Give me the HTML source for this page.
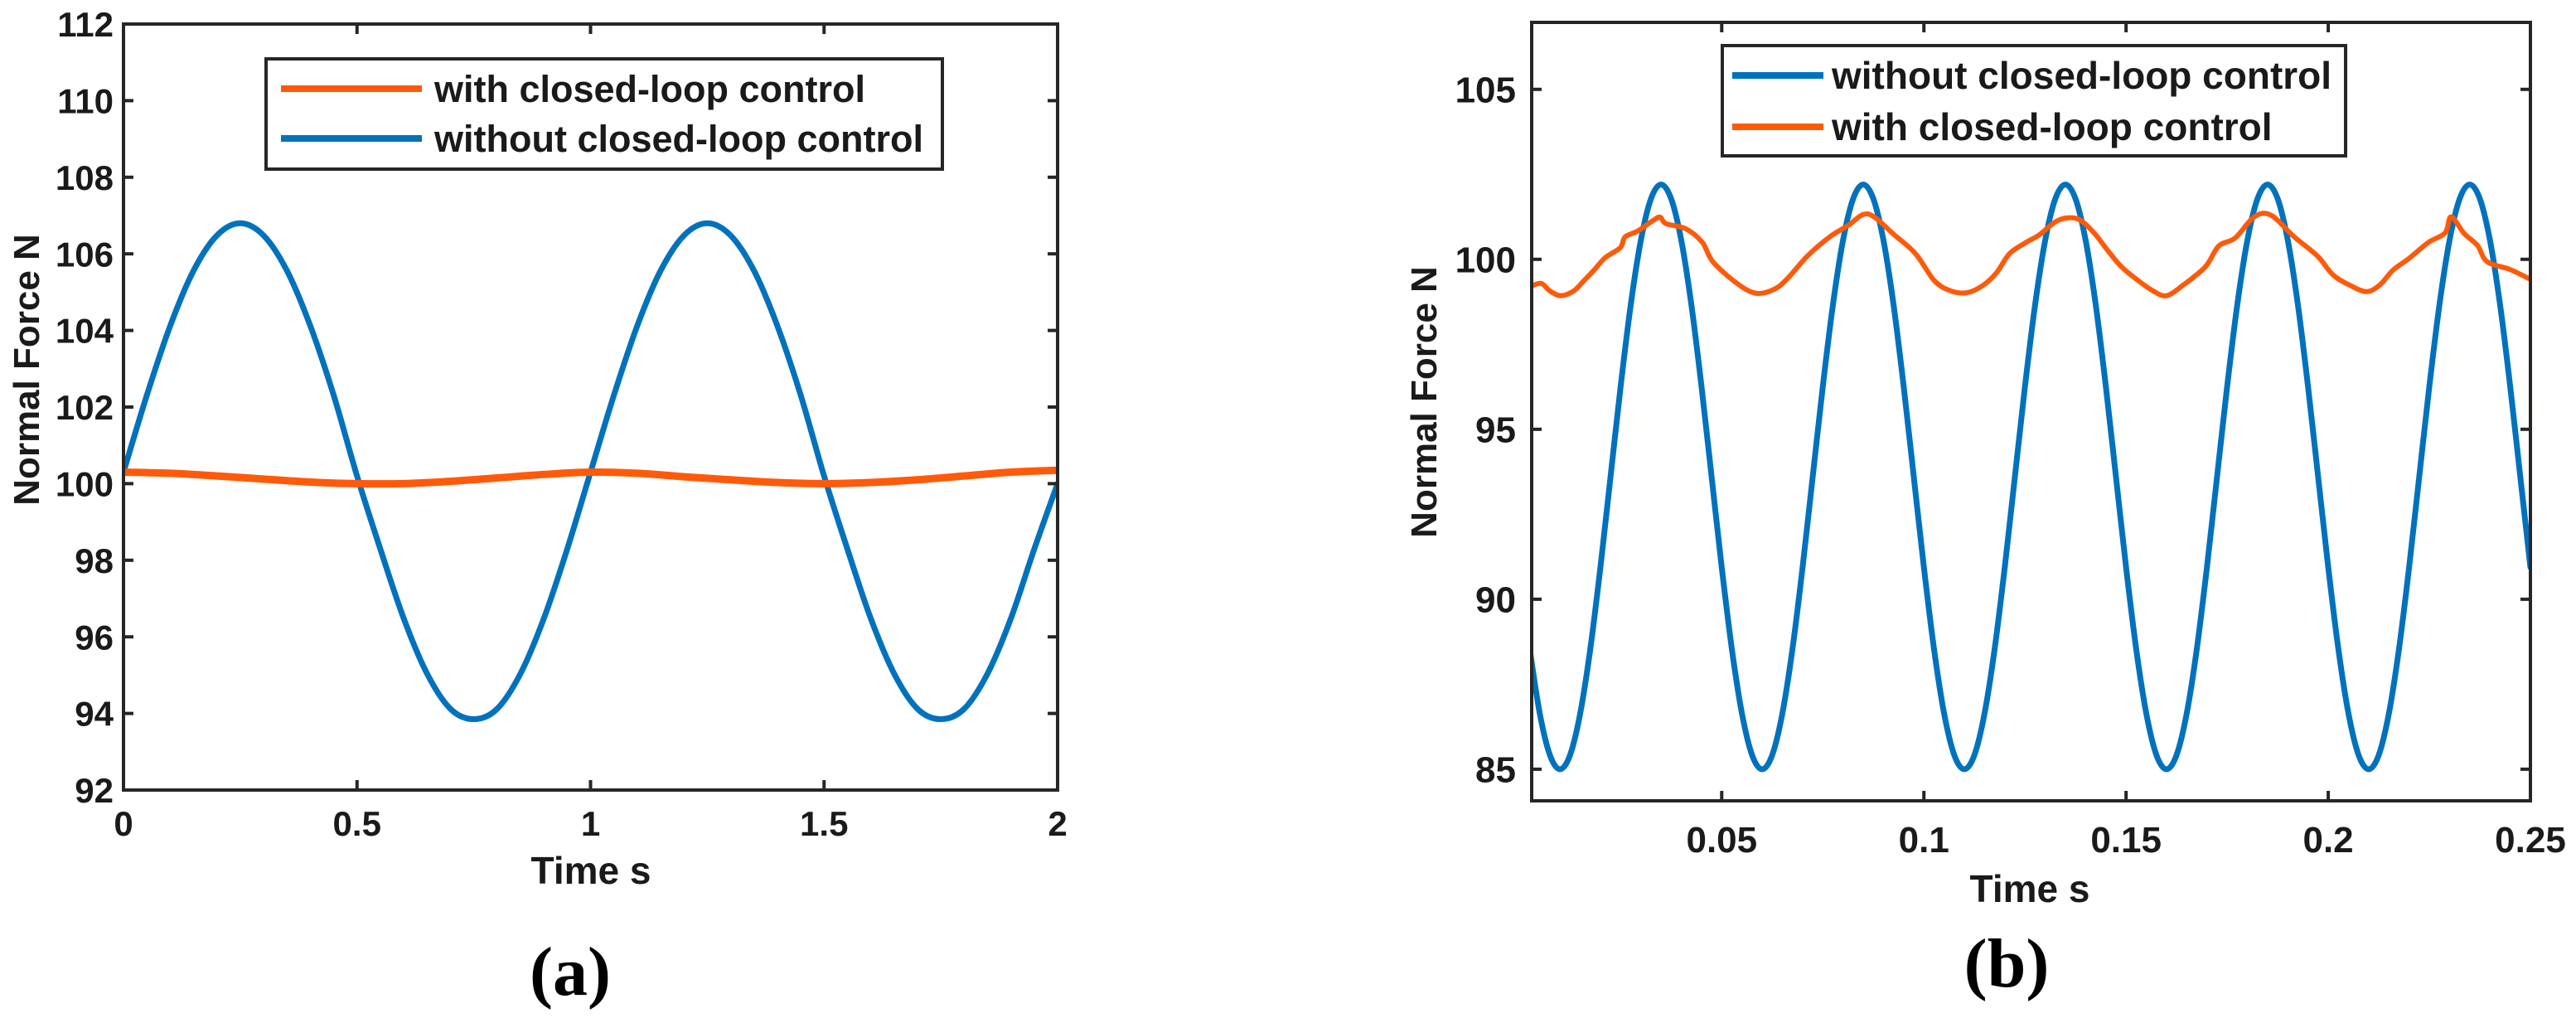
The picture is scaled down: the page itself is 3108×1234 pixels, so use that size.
<!DOCTYPE html>
<html><head><meta charset="utf-8">
<style>
html,body{margin:0;padding:0;background:#fff;}
svg{display:block;}
text{font-family:"Liberation Sans",Arial,sans-serif;font-weight:bold;fill:#1a1a1a;}
.serif{font-family:"Liberation Serif","Times New Roman",serif;font-weight:bold;fill:#000;}
</style></head>
<body>
<svg id="fig" width="3108" height="1234" viewBox="0 0 3108 1234" xmlns="http://www.w3.org/2000/svg">
<rect width="3108" height="1234" fill="#fff"/>
</svg>
<script>
// ---------- Panel (a) data ----------
const aTime = [0,0.05,0.1,0.15,0.2,0.25,0.3,0.35,0.4,0.45,0.5,0.55,0.6,0.65,0.7,0.75,0.8,0.85,0.9,0.95,1.0,1.05,1.1,1.15,1.2,1.25,1.3,1.35,1.4,1.45,1.5,1.55,1.6,1.65,1.7,1.75,1.8,1.85,1.9,1.95,2.0];
const aWithout = [100.3,102.31,104.12,105.56,106.48,106.8,106.48,105.56,104.12,102.31,100.2,98.29,96.48,95.04,94.12,93.85,94.12,95.04,96.48,98.29,100.3,102.31,104.12,105.56,106.48,106.8,106.48,105.56,104.12,102.31,100.2,98.29,96.48,95.04,94.12,93.85,94.12,95.04,96.48,98.29,100.0];
const aTimeW = [0,0.1,0.2,0.3,0.4,0.5,0.6,0.7,0.8,0.9,1.0,1.1,1.2,1.3,1.4,1.5,1.6,1.7,1.8,1.9,2.0];
const aWith = [100.3,100.27,100.2,100.12,100.04,100.0,100.0,100.06,100.15,100.24,100.3,100.27,100.18,100.1,100.03,100.0,100.03,100.1,100.2,100.3,100.35];
const aXTicks = [0,0.5,1,1.5,2];
const aXTickLabels = ["0","0.5","1","1.5","2"];
const aYTicks = [92,94,96,98,100,102,104,106,108,110,112];
const aYTickLabels = ["92","94","96","98","100","102","104","106","108","110","112"];

// ---------- Panel (b) data ----------
const bWithout = [88.54,86.64,85.42,85.0,85.42,86.64,88.54,90.94,93.6,96.26,98.66,100.56,101.78,
102.2,101.78,100.56,98.66,96.26,93.6,90.94,88.54,86.64,85.42,85.0,85.42,86.64,88.54,90.94,93.6,96.26,98.66,100.56,101.78,
102.2,101.78,100.56,98.66,96.26,93.6,90.94,88.54,86.64,85.42,85.0,85.42,86.64,88.54,90.94,93.6,96.26,98.66,100.56,101.78,
102.2,101.78,100.56,98.66,96.26,93.6,90.94,88.54,86.64,85.42,85.0,85.42,86.64,88.54,90.94,93.6,96.26,98.66,100.56,101.78,
102.2,101.78,100.56,98.66,96.26,93.6,90.94,88.54,86.64,85.42,85.0,85.42,86.64,88.54,90.94,93.6,96.26,98.66,100.56,101.78,
102.2,101.78,100.56,98.66,96.26,93.6,90.94];
const bTimeW = [0.003,0.0054,0.0075,0.0102,0.0134,0.0159,0.0184,0.0212,0.0249,0.0261,0.0292,0.0331,0.0348,0.0362,0.0411,0.0452,0.0478,0.0538,0.0585,0.0630,0.0663,0.0712,0.0767,0.0813,0.0850,0.0878,0.0923,0.0979,0.1026,0.1067,0.1108,0.1147,0.1180,0.1212,0.1253,0.1284,0.1325,0.1356,0.1387,0.1422,0.1454,0.1487,0.1526,0.1567,0.1600,0.1641,0.1696,0.1729,0.1770,0.1817,0.1858,0.1916,0.1973,0.2012,0.2053,0.2094,0.2127,0.2160,0.2199,0.2248,0.2289,0.2304,0.2336,0.2369,0.2393,0.2450,0.25];
const bWith = [99.22,99.29,99.07,98.93,99.07,99.37,99.68,100.05,100.34,100.66,100.83,101.15,101.24,101.05,100.9,100.5,99.93,99.29,99.0,99.12,99.44,100.1,100.66,101.0,101.32,101.24,100.76,100.17,99.37,99.07,99.02,99.24,99.61,100.17,100.5,100.71,101.1,101.22,101.15,100.76,100.27,99.8,99.41,99.07,98.93,99.24,99.78,100.39,100.63,101.25,101.3,100.66,100.1,99.54,99.24,99.05,99.24,99.68,100.02,100.5,100.78,101.25,100.76,100.41,99.93,99.7,99.41];
const bXTicks = [0.05,0.1,0.15,0.2,0.25];
const bXTickLabels = ["0.05","0.1","0.15","0.2","0.25"];
const bYTicks = [85,90,95,100,105];
const bYTickLabels = ["85","90","95","100","105"];

const NS = "http://www.w3.org/2000/svg";
const svg = document.getElementById('fig');
const AX = "#262626", BLUE = "#0072BD", ORANGE = "#FF5A0A";

function mk(tag, attrs, parent){
  const e = document.createElementNS(NS, tag);
  for (const k in attrs) e.setAttribute(k, attrs[k]);
  (parent || svg).appendChild(e);
  return e;
}
function smoothPath(pts){
  let d = "M" + pts[0][0].toFixed(2) + "," + pts[0][1].toFixed(2);
  for (let i = 0; i < pts.length - 1; i++){
    const p0 = pts[i-1] || pts[i], p1 = pts[i], p2 = pts[i+1], p3 = pts[i+2] || p2;
    const c1x = p1[0] + (p2[0]-p0[0])/6, c1y = p1[1] + (p2[1]-p0[1])/6;
    const c2x = p2[0] - (p3[0]-p1[0])/6, c2y = p2[1] - (p3[1]-p1[1])/6;
    d += " C" + c1x.toFixed(2)+","+c1y.toFixed(2)+" "+c2x.toFixed(2)+","+c2y.toFixed(2)+" "+p2[0].toFixed(2)+","+p2[1].toFixed(2);
  }
  return d;
}

function panel(cfg){
  const g = mk('g', {});
  
  
  const sx = v => cfg.x0 + (v - cfg.xmin) / (cfg.xmax - cfg.xmin) * (cfg.x1 - cfg.x0);
  const sy = v => cfg.y1 - (v - cfg.ymin) / (cfg.ymax - cfg.ymin) * (cfg.y1 - cfg.y0);
  const clip = mk('clipPath', {id: cfg.name + '-clip'}, g);
  mk('rect', {x: cfg.x0, y: cfg.y0, width: cfg.x1 - cfg.x0, height: cfg.y1 - cfg.y0}, clip);
  const plot = mk('g', {'clip-path': 'url(#' + cfg.name + '-clip)'}, g);
  
  
  cfg.series.forEach(s => {
    const pts = s.t.map((t, i) => [sx(t), sy(s.v[i])]);
    const p = mk('path', {d: smoothPath(pts), fill: 'none', stroke: s.color, 'stroke-width': s.w, 'stroke-linejoin': 'round', 'stroke-linecap': 'round'}, plot);
    
    
  });
  const box = mk('rect', {x: cfg.x0, y: cfg.y0, width: cfg.x1 - cfg.x0, height: cfg.y1 - cfg.y0, fill: 'none', stroke: AX, 'stroke-width': 4}, g);
  
  
  cfg.xt.forEach((v, i) => {
    const x = sx(v);
    mk('line', {x1: x, x2: x, y1: cfg.y1, y2: cfg.y1 - 12, stroke: AX, 'stroke-width': 4}, g);
    mk('line', {x1: x, x2: x, y1: cfg.y0, y2: cfg.y0 + 12, stroke: AX, 'stroke-width': 4}, g);
    const t = mk('text', {x: x, y: cfg.xLabY, 'font-size': cfg.tickFs, 'text-anchor': 'middle'}, g);
    t.textContent = cfg.xtl[i];
    
    
  });
  cfg.yt.forEach((v, i) => {
    const y = sy(v);
    mk('line', {x1: cfg.x0, x2: cfg.x0 + 12, y1: y, y2: y, stroke: AX, 'stroke-width': 4}, g);
    mk('line', {x1: cfg.x1, x2: cfg.x1 - 12, y1: y, y2: y, stroke: AX, 'stroke-width': 4}, g);
    const t = mk('text', {x: cfg.yLabX, y: y + cfg.tickFs * 0.36, 'font-size': cfg.tickFs, 'text-anchor': 'end'}, g);
    t.textContent = cfg.ytl[i];
    
    
  });
  const xt = mk('text', {x: cfg.xTitle[0], y: cfg.xTitle[1], 'font-size': 46, 'text-anchor': 'middle'}, g);
  xt.textContent = 'Time s';
  
  
  const yt = mk('text', {x: 0, y: 0, 'font-size': 44, 'text-anchor': 'middle', transform: 'translate(' + cfg.yTitle[0] + ',' + cfg.yTitle[1] + ') rotate(-90)'}, g);
  yt.textContent = 'Normal Force N';
  
  
  const L = cfg.legend;
  const lg = mk('g', {}, g);
  
  
  mk('rect', {x: L.x, y: L.y, width: L.w, height: L.h, fill: '#fff', stroke: AX, 'stroke-width': 4}, lg);
  L.items.forEach(it => {
    const e = mk('g', {}, lg);
    
    
    mk('line', {x1: L.lx0, x2: L.lx1, y1: it.y, y2: it.y, stroke: it.color, 'stroke-width': 8}, e);
    const t = mk('text', {x: L.tx, y: it.y + L.fs * 0.35, 'font-size': L.fs}, e);
    t.textContent = it.label;
  });
  const cap = mk('text', {x: cfg.cap[0], y: cfg.cap[1], 'font-size': 84, 'text-anchor': 'middle', class: 'serif'}, g);
  cap.textContent = cfg.capText;
  
  
}

panel({
  name: 'panel-a', x0: 149, x1: 1276, y0: 29, y1: 953,
  xmin: 0, xmax: 2, ymin: 92, ymax: 112,
  xt: aXTicks, xtl: aXTickLabels, yt: aYTicks, ytl: aYTickLabels,
  tickFs: 42, xLabY: 1008, yLabX: 137,
  xTitle: [713, 1066], yTitle: [47, 446],
  series: [
    {name: 'series-without-control', t: aTime, v: aWithout, color: BLUE, w: 7},
    {name: 'series-with-control', t: aTimeW, v: aWith, color: ORANGE, w: 9}
  ],
  legend: {x: 321, y: 71, w: 816, h: 133, lx0: 339, lx1: 509, tx: 524, fs: 45,
    items: [{y: 107, color: ORANGE, label: 'with closed-loop control'},
            {y: 167, color: BLUE, label: 'without closed-loop control'}]},
  cap: [688, 1200], capText: '(a)'
});

const bTime = bWithout.map((_, i) => 0.0025 * (i + 1));
panel({
  name: 'panel-b', x0: 1848, x1: 3053, y0: 27, y1: 966,
  xmin: 0.003, xmax: 0.25, ymin: 84.07, ymax: 106.97,
  xt: bXTicks, xtl: bXTickLabels, yt: bYTicks, ytl: bYTickLabels,
  tickFs: 44, xLabY: 1028, yLabX: 1829,
  xTitle: [2449, 1088], yTitle: [1733, 485],
  series: [
    {name: 'series-without-control', t: bTime, v: bWithout, color: BLUE, w: 7},
    {name: 'series-with-control', t: bTimeW, v: bWith, color: ORANGE, w: 6}
  ],
  legend: {x: 2078, y: 55, w: 752, h: 133, lx0: 2090, lx1: 2200, tx: 2210, fs: 46,
    items: [{y: 91, color: BLUE, label: 'without closed-loop control'},
            {y: 153, color: ORANGE, label: 'with closed-loop control'}]},
  cap: [2421, 1190], capText: '(b)'
});
</script>
</body></html>
